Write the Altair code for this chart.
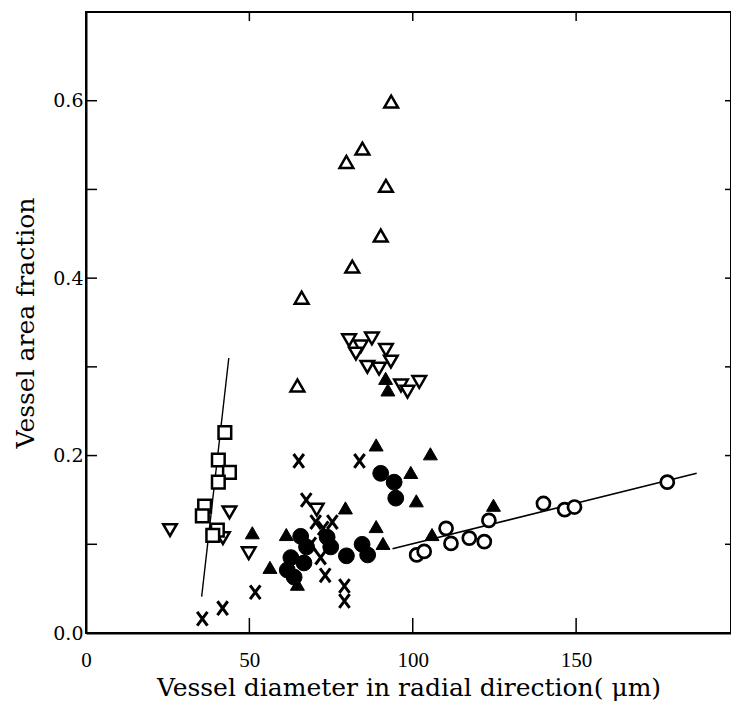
import altair as alt
import pandas as pd

# ---- data ----
open_up_x = [93.4, 84.6, 79.7, 91.8, 90.2, 81.5, 66.0, 64.7]
open_up_y = [0.599, 0.546, 0.531, 0.504, 0.448, 0.413, 0.378, 0.279]

open_down_x = [80.5, 84.1, 87.5, 82.6, 91.8, 86.1, 89.7, 93.3, 96.4, 98.4, 102.0,
               25.7, 43.9, 41.9, 49.8, 70.6]
open_down_y = [0.330, 0.323, 0.332, 0.315, 0.319, 0.300, 0.298, 0.306, 0.279, 0.272, 0.283,
               0.116, 0.136, 0.107, 0.090, 0.139]

filled_up_x = [50.9, 56.3, 61.3, 64.7, 79.4, 88.8, 91.7, 92.4, 99.4, 101.1, 105.4,
               88.8, 90.9, 105.9, 124.7]
filled_up_y = [0.113, 0.074, 0.111, 0.055, 0.141, 0.212, 0.287, 0.274, 0.181, 0.149, 0.202,
               0.120, 0.101, 0.111, 0.144]

filled_circle_x = [90.2, 94.3, 94.8, 65.7, 67.5, 62.7, 61.6, 63.7, 66.7, 73.8, 74.9,
                   79.7, 84.5, 86.2]
filled_circle_y = [0.180, 0.170, 0.152, 0.109, 0.097, 0.085, 0.071, 0.063, 0.079, 0.108, 0.097,
                   0.087, 0.100, 0.088]

cross_x = [35.6, 41.8, 51.8, 65.1, 83.7, 67.4, 70.3, 72.6, 75.4, 68.8, 71.8, 73.2, 79.1, 79.1]
cross_y = [0.016, 0.028, 0.046, 0.194, 0.194, 0.150, 0.125, 0.118, 0.125, 0.100, 0.085, 0.065,
           0.053, 0.036]

open_circle_x = [101.2, 103.5, 110.2, 111.7, 117.3, 121.9, 123.3, 140.0, 146.5, 149.5, 177.9]
open_circle_y = [0.088, 0.092, 0.118, 0.101, 0.107, 0.103, 0.127, 0.146, 0.139, 0.142, 0.170]

square_x = [42.5, 40.5, 43.9, 40.5, 36.3, 35.6, 40.2, 38.8]
square_y = [0.226, 0.195, 0.181, 0.170, 0.143, 0.132, 0.116, 0.110]

# fitted lines (end points)
circle_line_x = [93.8, 186.9]
circle_line_y = [0.095, 0.180]
square_line_x = [35.4, 43.7]
square_line_y = [0.041, 0.310]

x_tick_values = [50, 100, 150]
x_label_values = [0, 50, 100, 150]
y_tick_values = [0.1, 0.2, 0.3, 0.4, 0.5, 0.6]
y_label_values = [0.0, 0.2, 0.4, 0.6]

X_DOMAIN = [0, 197.4]
Y_DOMAIN = [0, 0.7]
W, H = 645, 621

xs = alt.Scale(domain=X_DOMAIN, nice=False, zero=False)
ys = alt.Scale(domain=Y_DOMAIN, nice=False, zero=False)

x_axis = alt.Axis(values=x_label_values, ticks=False, domain=True, domainColor="black",
                  domainWidth=2, grid=False,
                  labelFont="Liberation Serif", labelFontSize=21, labelColor="black",
                  labelPadding=16, titleFont="DejaVu Serif", titleFontSize=25,
                  titleFontWeight="normal", titleColor="black", titlePadding=5,
                  labelFlush=False)
y_axis = alt.Axis(values=y_label_values, format=".1f", ticks=False, domain=True,
                  domainColor="black", domainWidth=2,
                  grid=False, labelFont="DejaVu Serif", labelFontSize=19,
                  labelColor="black", labelPadding=3, titleFont="DejaVu Serif",
                  titleFontSize=25, titleFontWeight="normal", titleColor="black",
                  titlePadding=14, labelFlush=False)
X_TITLE = "Vessel diameter in radial direction( μm)"
Y_TITLE = "Vessel area fraction"


def xe(field):
    return alt.X(field, scale=xs, axis=x_axis, title=X_TITLE)


def ye(field):
    return alt.Y(field, scale=ys, axis=y_axis, title=Y_TITLE)


def df(xv, yv):
    return pd.DataFrame({"x": xv, "y": yv})


def pts(xv, yv, **mark):
    return alt.Chart(df(xv, yv)).mark_point(opacity=1, **mark).encode(
        x=xe("x:Q"), y=ye("y:Q"))


ytk = pd.DataFrame({"v": y_tick_values})
xtk = pd.DataFrame({"v": x_tick_values})
left_ticks = alt.Chart(ytk).mark_rule(color="black", strokeWidth=1.5).encode(
    y=ye("v:Q"), x=alt.value(0), x2=alt.value(11))
right_ticks = alt.Chart(ytk).mark_rule(color="black", strokeWidth=1.5).encode(
    y=ye("v:Q"), x=alt.value(W), x2=alt.value(W - 6))
bottom_ticks = alt.Chart(xtk).mark_rule(color="black", strokeWidth=1.5).encode(
    x=xe("v:Q"), y=alt.value(H), y2=alt.value(H - 15))
top_ticks = alt.Chart(xtk).mark_rule(color="black", strokeWidth=1.5).encode(
    x=xe("v:Q"), y=alt.value(0), y2=alt.value(9))

line_circ = alt.Chart(df(circle_line_x, circle_line_y)).mark_line(
    color="black", strokeWidth=1.6).encode(x=xe("x:Q"), y=ye("y:Q"))
line_sq = alt.Chart(df(square_line_x, square_line_y)).mark_line(
    color="black", strokeWidth=1.4).encode(x=xe("x:Q"), y=ye("y:Q"))

x_shape = "M-0.75,-1L0.75,1M0.75,-1L-0.75,1"

layers = [
    left_ticks, right_ticks, bottom_ticks, top_ticks,
    line_circ, line_sq,
    pts(cross_x, cross_y, shape=x_shape, filled=False, stroke="black", strokeWidth=3, size=190),
    pts(open_down_x, open_down_y, shape="triangle-down", filled=True, fill="white",
        stroke="black", strokeWidth=2.5, size=185),
    pts(square_x, square_y, shape="square", filled=True, fill="white",
        stroke="black", strokeWidth=2.5, size=160),
    pts(filled_circle_x, filled_circle_y, shape="circle", filled=True, fill="black",
        stroke="black", strokeWidth=1, size=250),
    pts(filled_up_x, filled_up_y, shape="triangle-up", filled=True, fill="black",
        stroke="black", strokeWidth=1, size=195),
    pts(open_circle_x, open_circle_y, shape="circle", filled=True, fill="white",
        stroke="black", strokeWidth=2.7, size=170),
    pts(open_up_x, open_up_y, shape="triangle-up", filled=True, fill="white",
        stroke="black", strokeWidth=2.5, size=190),
]

chart = alt.layer(*layers).properties(
    width=W, height=H,
    background="white",
    autosize=alt.AutoSizeParams(type="none"),
    padding={"left": 78, "top": 4, "right": 0, "bottom": 68},
).configure_view(stroke="black", strokeWidth=2)

chart.save("out.html", embed_options={"renderer": "svg", "actions": False})
